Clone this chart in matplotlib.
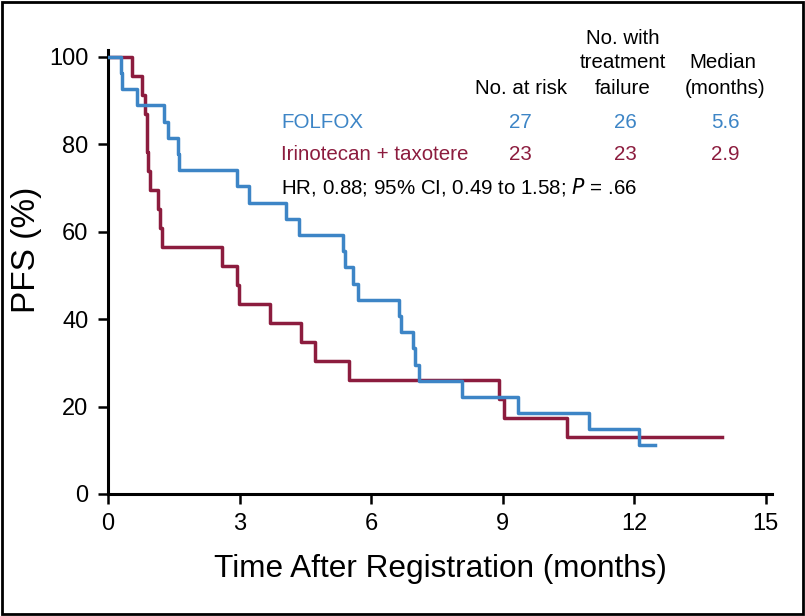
import matplotlib.pyplot as plt
from matplotlib.patches import Rectangle

# step curves (months, % progression-free)
folfox_t = [0, 0.3, 0.33, 0.67, 1.28, 1.37, 1.59, 1.63, 2.93, 3.21, 4.07, 4.36, 5.36,
            5.40, 5.59, 5.71, 6.64, 6.69, 6.95, 7.0, 7.1, 8.08, 9.35, 10.97, 12.1, 12.47]
folfox_s = [100, 96.3, 92.6, 88.9, 85.2, 81.5, 77.8, 74.1, 70.4, 66.7, 63.0, 59.3, 55.6,
            51.9, 48.1, 44.4, 40.7, 37.0, 33.3, 29.6, 25.9, 22.2, 18.5, 14.8, 11.1, 11.1]

irino_t = [0, 0.55, 0.77, 0.85, 0.88, 0.90, 0.92, 0.95, 1.15, 1.19, 1.22, 2.59, 2.95,
           2.99, 3.69, 4.39, 4.72, 5.49, 8.92, 9.03, 10.47, 14.0]
irino_s = [100, 95.7, 91.3, 87.0, 82.6, 78.3, 73.9, 69.6, 65.2, 60.9, 56.5, 52.2, 47.8,
           43.5, 39.1, 34.8, 30.4, 26.1, 21.7, 17.4, 13.0, 13.0]

groups = ['FOLFOX', 'Irinotecan + taxotere']
at_risk = ['27', '23']
failures = ['26', '23']
medians = ['5.6', '2.9']
colors = ['#3d85c6', '#8c1c3e']

x_ticks = [0, 3, 6, 9, 12, 15]
y_ticks = [0, 20, 40, 60, 80, 100]

plt.rcParams['font.family'] = ['Liberation Sans', 'DejaVu Sans']

fig = plt.figure(figsize=(8.05, 6.16), dpi=100)
ax = fig.add_axes([108 / 805, 1 - 494 / 616, (772 - 108) / 805, (494 - 50) / 616])

ax.plot(folfox_t, folfox_s, drawstyle='steps-post', color=colors[0], lw=2.5, zorder=3)
ax.plot(irino_t, irino_s, drawstyle='steps-post', color=colors[1], lw=2.5, zorder=2)

ax.set_xlim(0, 15.14)
ax.set_ylim(0, 101.6)
ax.set_xticks(x_ticks)
ax.set_yticks(y_ticks)
ax.tick_params(direction='out', length=7, width=1.8, pad=7, labelsize=17)
for s in ['top', 'right']:
    ax.spines[s].set_visible(False)
for s in ['left', 'bottom']:
    ax.spines[s].set_linewidth(2.2)

ax.set_xlabel('Time After Registration (months)', fontsize=22.7)
ax.xaxis.set_label_coords(0.5, -0.135)
ax.set_ylabel('PFS (%)', fontsize=24)
ax.yaxis.set_label_coords(-0.099, 0.55)

# table-style legend
def px(x, y):
    return x / 805, 1 - y / 616

fs = 14.8
fig.text(*px(623, 38), 'No. with', ha='center', va='center', fontsize=fs)
fig.text(*px(623, 63), 'treatment', ha='center', va='center', fontsize=fs)
fig.text(*px(623, 88), 'failure', ha='center', va='center', fontsize=fs)
fig.text(*px(723, 63), 'Median', ha='center', va='center', fontsize=fs)
fig.text(*px(725, 88), '(months)', ha='center', va='center', fontsize=fs)
fig.text(*px(521, 88), 'No. at risk', ha='center', va='center', fontsize=fs)

for i, g in enumerate(groups):
    yy = 123 + i * 32
    fig.text(*px(281, yy), g, ha='left', va='center', fontsize=fs, color=colors[i])
    fig.text(*px(520, yy), at_risk[i], ha='center', va='center', fontsize=fs, color=colors[i])
    fig.text(*px(625, yy), failures[i], ha='center', va='center', fontsize=fs, color=colors[i])
    fig.text(*px(725, yy), medians[i], ha='center', va='center', fontsize=fs, color=colors[i])

fig.text(*px(281, 187), 'HR, 0.88; 95% CI, 0.49 to 1.58; $\\it{P}$ = .66',
         ha='left', va='center', fontsize=fs)

fig.patches.append(Rectangle((0.003, 0.004), 0.994, 0.992, transform=fig.transFigure,
                             fill=False, edgecolor='black', lw=2))

fig.savefig('out.png', dpi=100)
